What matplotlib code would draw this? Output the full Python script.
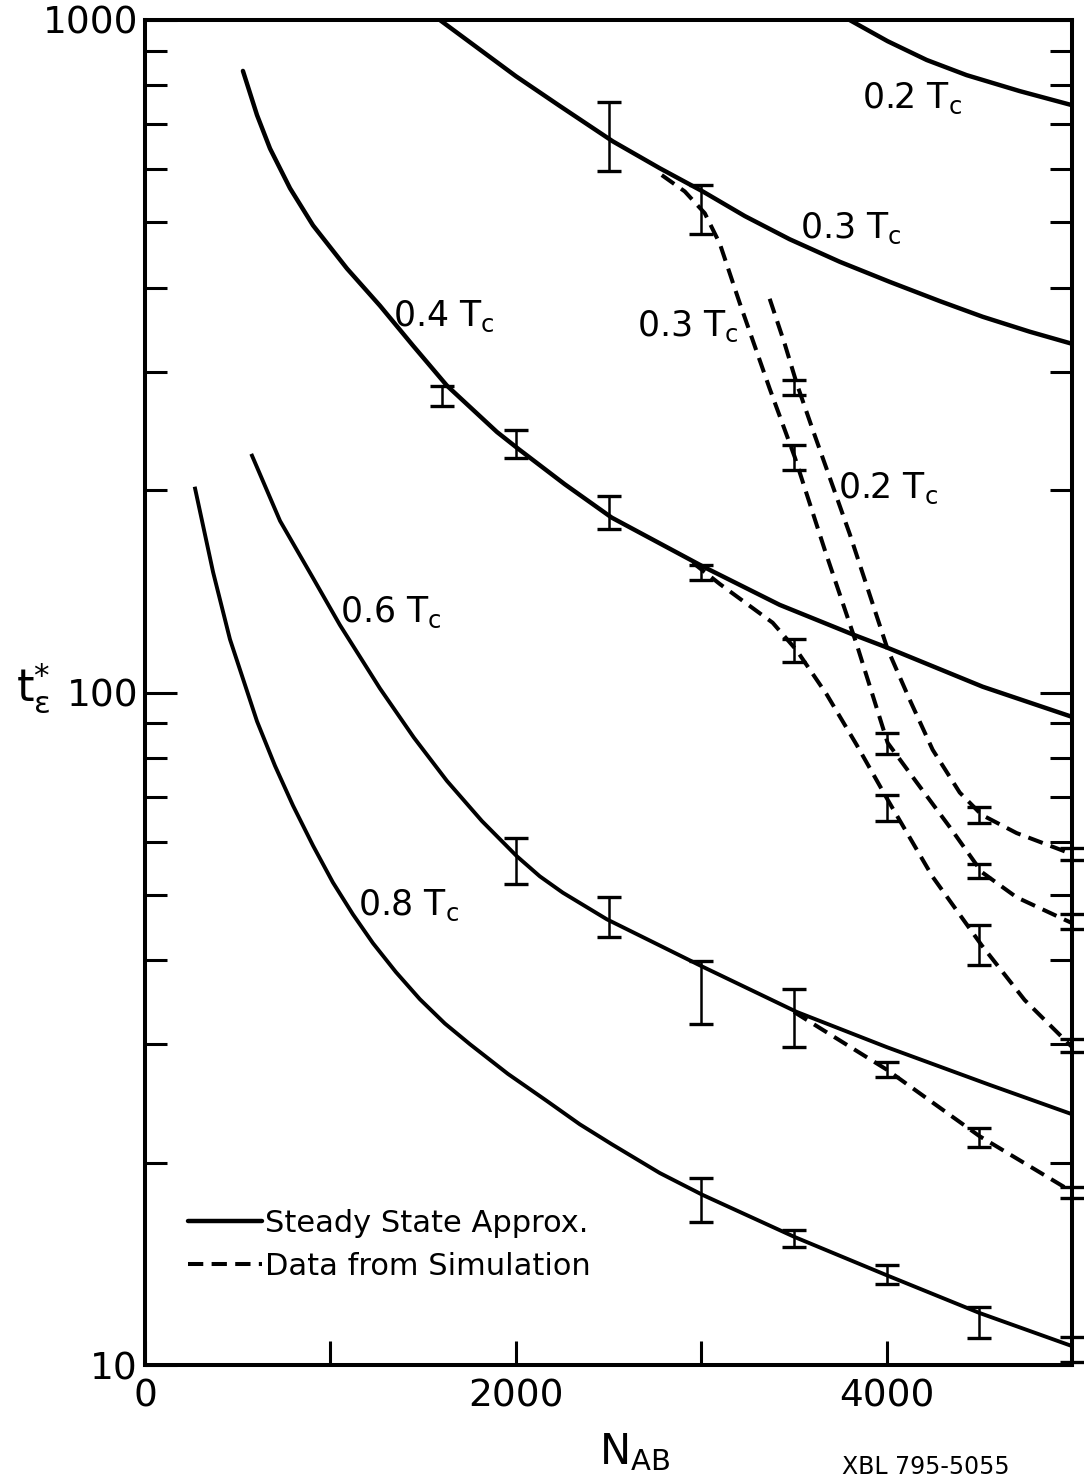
import matplotlib
matplotlib.use("Agg")
import matplotlib.pyplot as plt
import numpy as np
from matplotlib.ticker import NullFormatter, LogLocator

plt.rcParams['font.family'] = ['DejaVu Sans']
plt.rcParams['mathtext.default'] = 'regular'
plt.rcParams['lines.scale_dashes'] = False

# steady state approximation curves (N_AB, t*)
n_02 = [3800, 4005, 4216, 4431, 4717, 5000]
t_02 = [1000, 930, 872, 828, 784, 747]

n_03 = [1590, 2000, 2237, 2523, 2776, 3008, 3235, 3477, 3747, 4016,
        4286, 4518, 4771, 5000]
t_03 = [1000, 825, 745, 660, 602, 556, 511, 472, 437, 408,
        382, 362, 344, 330]

n_04 = [528, 604, 674, 782, 906, 1089, 1267, 1445, 1628, 1898, 2016,
        2264, 2517, 3008, 3423, 3817, 4000, 4518, 5000]
t_04 = [840, 722, 644, 562, 495, 427, 376, 328, 286, 244, 230,
        204, 182, 154, 135, 122, 116.7, 102, 92]

n_06 = [577, 728, 906, 1051, 1267, 1450, 1628, 1817, 2005, 2129, 2253,
        2491, 3008, 3515, 4000, 4555, 5000]
t_06 = [225, 180, 148, 126, 101.4, 85.7, 73.9, 64.4, 57.1, 53.3, 50.4,
        46.0, 39.1, 33.5, 29.7, 26.1, 23.6]

n_08 = [270, 367, 458, 604, 701, 798, 906, 1013, 1121, 1229, 1353, 1482,
        1617, 1752, 1957, 2167, 2345, 2517, 2776, 3008, 3504, 4000,
        4501, 5000]
t_08 = [201, 151, 120, 90.6, 77.8, 67.9, 59.2, 52.2, 46.8, 42.4, 38.4,
        35.0, 32.2, 30.0, 27.1, 24.7, 22.8, 21.3, 19.3, 17.9, 15.5, 13.6,
        11.95, 10.67]

# data from simulation
n_sim02 = [3369, 3450, 3515, 3601, 3801, 4005, 4124, 4248, 4394, 4512,
           4701, 5000]
t_sim02 = [385, 330, 288, 246, 172, 116, 97.6, 82.2, 71.0, 65.8,
           61.8, 57.5]

n_sim03 = [2787, 2911, 3019, 3100, 3208, 3369, 3504, 3666, 3838, 4005,
           4162, 4340, 4512, 4701, 5000]
t_sim03 = [588, 556, 516, 465, 379, 283, 224, 163, 118, 84.2,
           73.5, 63.1, 54.1, 49.6, 45.4]

n_sim04 = [2954, 3100, 3385, 3515, 3677, 3838, 4005, 4248, 4512, 4744, 5000]
t_sim04 = [156, 145, 127, 115.5, 99.3, 83.6, 69.3, 53.2, 42.1, 34.9, 29.7]

n_sim06 = [3500, 4000, 4500, 5000]
t_sim06 = [33.5, 27.5, 21.9, 18.1]

# error bars: position, low, high
bar_n = [1600, 2000, 2500, 3000, 2500, 3000,
         2000, 2500, 3000, 3500,
         3000, 3500, 4000, 4500, 5000,
         3500, 4500, 5000,
         3500, 4000, 4500, 5000,
         3500, 4000, 4500, 5000,
         4000, 4500, 5000]
bar_lo = [267, 223, 175, 147, 596, 480,
          51.9, 43.3, 32.1, 29.7,
          16.3, 15.0, 13.2, 10.97, 10.1,
          277, 64, 56.4,
          214, 81, 53, 44.5,
          111, 64.3, 39.3, 29.2,
          26.8, 21.1, 17.7]
bar_hi = [286, 246, 196, 155, 755, 568,
          60.8, 49.7, 39.9, 36.2,
          19.0, 15.9, 14.1, 12.2, 11.0,
          292, 67.6, 58.7,
          233, 87, 55.6, 46.8,
          120, 70.5, 45.1, 30.5,
          28.2, 22.5, 18.4]

# curve labels
lab_text = ['0.2 T$_c$', '0.3 T$_c$', '0.4 T$_c$', '0.3 T$_c$',
            '0.2 T$_c$', '0.6 T$_c$', '0.8 T$_c$']
lab_n = [3865, 3531, 1337, 2652, 3736, 1051, 1148]
lab_t = [765, 490, 362, 350, 201, 131.6, 48.2]

fig = plt.figure(figsize=(10.84, 14.81), dpi=100)
ax = fig.add_axes([0.1338, 0.0783, 0.8552, 0.9082])

solid_kw = dict(color='black', lw=3.2, solid_capstyle='round',
                solid_joinstyle='round')
ax.plot(n_02, t_02, **solid_kw)
ax.plot(n_03, t_03, **solid_kw)
steady, = ax.plot(n_04, t_04, **solid_kw)
ax.plot(n_06, t_06, color='black', lw=2.8, solid_joinstyle='round')
ax.plot(n_08, t_08, color='black', lw=2.8, solid_joinstyle='round')

dash_kw = dict(color='black', lw=2.9, dashes=(11, 6))
sim, = ax.plot(n_sim02, t_sim02, **dash_kw)
ax.plot(n_sim03, t_sim03, **dash_kw)
ax.plot(n_sim04, t_sim04, **dash_kw)
ax.plot(n_sim06, t_sim06, **dash_kw)

bar_lo = np.array(bar_lo)
bar_hi = np.array(bar_hi)
mid = np.sqrt(bar_lo * bar_hi)
eb = ax.errorbar(bar_n, mid, yerr=[mid - bar_lo, bar_hi - mid], fmt='none',
                 ecolor='black', elinewidth=1.8, capsize=8.5, capthick=2.4)
for part in eb.lines:
    for art in (part if isinstance(part, tuple) else [part]):
        if art is not None:
            art.set_clip_on(False)

for txt, xn, yt in zip(lab_text, lab_n, lab_t):
    ax.text(xn, yt, txt, fontsize=25, ha='left', va='center')

ax.set_yscale('log')
ax.set_xlim(0, 5000)
ax.set_ylim(10, 1000)

ax.set_xticks([0, 2000, 4000])
ax.set_xticklabels(['0', '2000', '4000'])
ax.set_xticks([1000, 3000], minor=True)
ax.set_yticks([10, 100, 1000])
ax.set_yticklabels(['10', '100', '1000'])
ax.yaxis.set_minor_locator(LogLocator(base=10, subs=np.arange(2, 10)))
ax.yaxis.set_minor_formatter(NullFormatter())

ax.tick_params(axis='both', which='both', direction='in', top=False,
               right=True, labelsize=27, width=2.2, color='black')
ax.tick_params(axis='y', which='major', length=23, pad=5)
ax.tick_params(axis='y', which='minor', length=16)
ax.tick_params(axis='x', which='both', length=17, pad=10)

for sp in ax.spines.values():
    sp.set_linewidth(2.9)

ax.legend([steady, sim], ['Steady State Approx.', 'Data from Simulation'],
          loc='upper left', bbox_to_anchor=(0.0464, 0.116),
          frameon=False, fontsize=22, handlelength=2.42,
          handletextpad=0.1, labelspacing=0.45, borderpad=0,
          borderaxespad=0)

fig.text(33 / 1084, 1 - 688 / 1481, r'$t_{\epsilon}^{*}$', fontsize=32,
         ha='center', va='center')
fig.text(635 / 1084, 1 - 1452 / 1481, r'$N_{AB}$', fontsize=30,
         ha='center', va='center')
fig.text(842 / 1084, 1 - 1479 / 1481, 'XBL 795-5055', fontsize=17,
         ha='left', va='bottom')

fig.savefig('out.png', dpi=100)
